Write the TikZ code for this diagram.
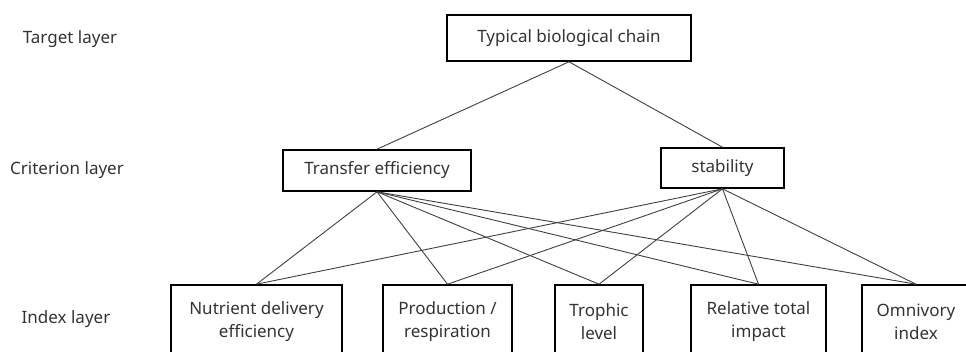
\documentclass[tikz,border=0pt]{standalone}
\usepackage{fontspec}
\setmainfont{Noto Sans}
\begin{document}
\begin{tikzpicture}[x=1pt,y=-1pt,
		box/.style={draw,line width=1.6pt,inner sep=0pt,align=center,text=black!80,font=\fontsize{17}{23}\selectfont},
		layer/.style={text=black!80,font=\fontsize{17}{20}\selectfont},
		link/.style={line width=0.9pt,draw=black!75}]
		
		% Rahmen
		\useasboundingbox (0,0) rectangle (966,351);
		\clip (0,0) rectangle (966,351);
		
		% Ebenen
		\node[layer] (target) at (70,39) {Target layer};
		\node[layer] (criterion) at (67,170) {Criterion layer};
		\node[layer] (index) at (66,319) {Index layer};
		
		% Ziel
		\node[box,minimum width=244pt,minimum height=46pt] (chain) at (569,38) {Typical biological chain};
		
		% Kriterien
		\node[box,minimum width=188pt,minimum height=41pt] (transfer) at (377,170.5) {Transfer efficiency};
		\node[box,minimum width=123pt,minimum height=40pt] (stab) at (722.5,168) {stability};
		
		% Indikatoren
		\node[box,minimum width=171pt,minimum height=74pt] (nutrient) at (256.5,322) {Nutrient delivery\\efficiency};
		\node[box,minimum width=129pt,minimum height=74pt] (prod) at (447.5,322) {Production /\\respiration};
		\node[box,minimum width=88pt,minimum height=74pt] (trophic) at (599,322) {Trophic\\level};
		\node[box,minimum width=135pt,minimum height=74pt] (impact) at (758.5,322) {Relative total\\impact};
		\node[box,minimum width=108pt,minimum height=74pt] (omni) at (916,322) {Omnivory\\index};
		
		% Verbindungen
		\draw[link] (chain.south) -- (transfer.north);
		\draw[link] (chain.south) -- (stab.north);
		\foreach \n in {nutrient,prod,trophic,impact,omni} {
			\draw[link] (transfer.south) -- (\n.north);
			\draw[link] (stab.south) -- (\n.north);
		}
		
	\end{tikzpicture}
\end{document}
